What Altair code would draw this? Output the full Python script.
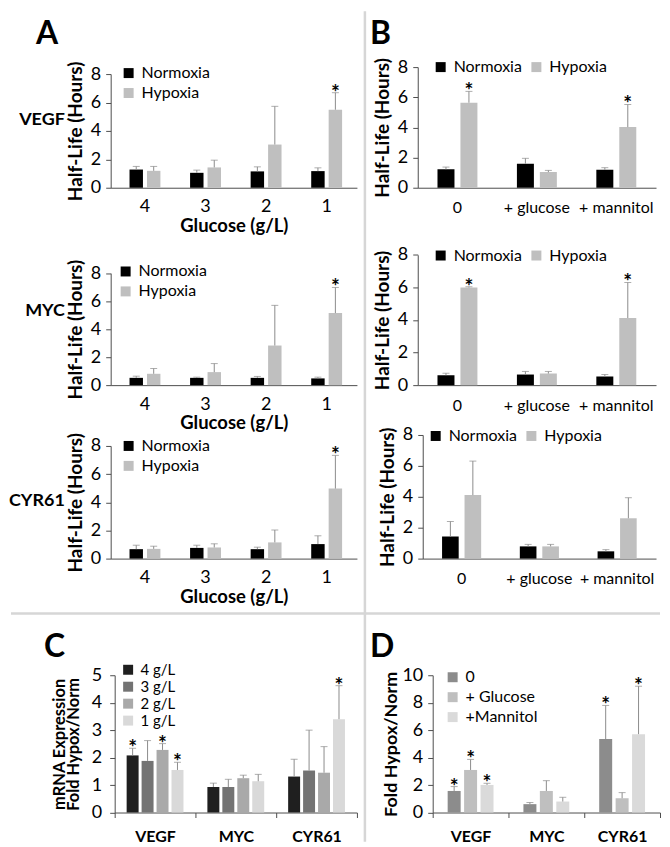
import altair as alt
import pandas as pd

FONT = "Lato"
ERR_COLOR = "#8c8c8c"
AXIS_COLOR = "#4d4d4d"
SEP_COLOR = "#d6d6d6"

# ---------------- data ----------------
HL_SERIES = ["Normoxia", "Hypoxia"]
HL_COLORS = ["#000000", "#bfbfbf"]

A_CATS = ["4", "3", "2", "1"]
B_CATS = ["0", "+ glucose", "+ mannitol"]

# Panel A - VEGF
A_VEGF_NORM = [1.28, 1.05, 1.15, 1.17]
A_VEGF_NORM_ERR = [1.50, 1.24, 1.47, 1.40]
A_VEGF_HYP = [1.19, 1.43, 3.04, 5.49]
A_VEGF_HYP_ERR = [1.50, 1.94, 5.73, 6.69]
A_VEGF_STAR = ["", "", "", "*"]
# Panel A - MYC
A_MYC_NORM = [0.52, 0.52, 0.52, 0.48]
A_MYC_NORM_ERR = [0.64, 0.57, 0.62, 0.57]
A_MYC_HYP = [0.81, 0.93, 2.83, 5.15]
A_MYC_HYP_ERR = [1.19, 1.54, 5.70, 6.98]
A_MYC_STAR = ["", "", "", "*"]
# Panel A - CYR61
A_CYR_NORM = [0.67, 0.76, 0.67, 1.03]
A_CYR_NORM_ERR = [0.95, 0.95, 0.81, 1.62]
A_CYR_HYP = [0.69, 0.79, 1.15, 4.97]
A_CYR_HYP_ERR = [0.88, 1.05, 2.03, 7.33]
A_CYR_STAR = ["", "", "", "*"]

# Panel B - VEGF
B_VEGF_NORM = [1.22, 1.59, 1.19]
B_VEGF_NORM_ERR = [1.37, 1.95, 1.33]
B_VEGF_HYP = [5.64, 1.04, 4.02]
B_VEGF_HYP_ERR = [6.39, 1.15, 5.52]
B_VEGF_STAR = ["*", "", "*"]
# Panel B - MYC
B_MYC_NORM = [0.61, 0.65, 0.53]
B_MYC_NORM_ERR = [0.73, 0.84, 0.65]
B_MYC_HYP = [6.00, 0.71, 4.12]
B_MYC_HYP_ERR = [6.04, 0.84, 6.30]
B_MYC_STAR = ["*", "", "*"]
# Panel B - CYR61
B_CYR_NORM = [1.43, 0.79, 0.47]
B_CYR_NORM_ERR = [2.40, 0.92, 0.58]
B_CYR_HYP = [4.11, 0.79, 2.61]
B_CYR_HYP_ERR = [6.31, 0.92, 3.94]
B_CYR_STAR = ["", "", ""]

# Panel C - mRNA fold change by glucose
GENES = ["VEGF", "MYC", "CYR61"]
C_SERIES = ["4 g/L", "3 g/L", "2 g/L", "1 g/L"]
C_COLORS = ["#1f1f1f", "#737373", "#a9a9a9", "#d9d9d9"]
C_VALS = [[2.08, 0.93, 1.31], [1.88, 0.93, 1.53], [2.28, 1.25, 1.45], [1.55, 1.14, 3.40]]
C_ERRS = [[2.34, 1.07, 1.94], [2.62, 1.21, 3.00], [2.51, 1.36, 2.40], [1.83, 1.39, 4.62]]
C_STARS = [["*", "", ""], ["", "", ""], ["*", "", ""], ["*", "", "*"]]

# Panel D - fold change with glucose / mannitol
D_SERIES = ["0", "+ Glucose", "+Mannitol"]
D_COLORS = ["#8c8c8c", "#bfbfbf", "#dadada"]
D_VALS = [[1.57, 0.61, 5.35], [3.10, 1.57, 1.04], [2.01, 0.80, 5.71]]
D_ERRS = [[1.89, 0.73, 7.80], [3.87, 2.32, 1.45], [2.13, 1.11, 9.20]]
D_STARS = [["*", "", "*"], ["*", "", ""], ["*", "", "*"]]

DUMMY = pd.DataFrame({"k": [0]})


def hl_df(cats, n, ne, h, he, hstar):
    rows = []
    for i, c in enumerate(cats):
        rows.append(dict(cat=c, series="Normoxia", val=n[i], err=ne[i], star=""))
        rows.append(dict(cat=c, series="Hypoxia", val=h[i], err=he[i], star=hstar[i]))
    return pd.DataFrame(rows)


def grp_df(cats, series, vals, errs, stars):
    rows = []
    for i, c in enumerate(cats):
        for j, s in enumerate(series):
            rows.append(dict(cat=c, series=s, val=vals[j][i], err=errs[j][i], star=stars[j][i]))
    return pd.DataFrame(rows)


def text_ann(text, x, y, size, align="left", baseline="alphabetic", weight="bold"):
    return alt.Chart(DUMMY).mark_text(
        text=text, fontSize=size, fontWeight=weight, font=FONT, align=align,
        baseline=baseline, color="black"
    ).encode(x=alt.value(x), y=alt.value(y))


def sep(x, x2, y, y2):
    return alt.Chart(DUMMY).mark_rule(color=SEP_COLOR, strokeWidth=2.5).encode(
        x=alt.value(x), x2=alt.value(x2), y=alt.value(y), y2=alt.value(y2))


LEG = dict(orient="none", title=None, symbolType="square", symbolSize=100,
           symbolStrokeWidth=0, labelFont=FONT, labelColor="black",
           labelLimit=300, padding=0, labelOffset=5)


def cell(df, cats, series, colors, width, height, y_range, y_domain,
         x_scale, xoff_scale, x_axis, y_axis, legend, annots):
    y_scale = alt.Scale(domain=y_domain, range=y_range, nice=False)
    base = alt.Chart(df).encode(
        x=alt.X("cat:N", sort=cats, scale=x_scale, axis=x_axis),
        xOffset=alt.XOffset("series:N", sort=series, scale=xoff_scale),
    )
    bars = base.mark_bar().encode(
        y=alt.Y("val:Q", scale=y_scale, axis=y_axis),
        color=alt.Color("series:N", sort=series,
                        scale=alt.Scale(domain=series, range=colors), legend=legend),
    )
    rules = base.mark_rule(color=ERR_COLOR, strokeWidth=1).encode(
        y=alt.Y("val:Q", axis=y_axis), y2="err:Q")
    caps = base.mark_tick(orient="horizontal", color=ERR_COLOR, size=7, thickness=1).encode(
        y=alt.Y("err:Q", axis=y_axis))
    stars = base.transform_filter(alt.datum.star == "*").mark_text(
        text="*", fontSize=21, fontWeight="bold", dy=7, font=FONT, baseline="alphabetic",
        color="black"
    ).encode(y=alt.Y("err:Q", axis=y_axis))
    return alt.layer(bars, rules, caps, stars, *annots).properties(width=width, height=height)


def hl_yaxis(offset=0):
    return alt.Axis(values=[0, 2, 4, 6, 8], title="Half-Life (Hours)", titleFontSize=19,
                    titleFontWeight="bold", titlePadding=5, labelFontSize=18, tickSize=5,
                    labelPadding=5, offset=offset)


def a_xaxis():
    return alt.Axis(title="Glucose (g/L)", titleFontSize=18.5, titleFontWeight="bold",
                    labelFontSize=18, labelAngle=0, ticks=False, labelPadding=10,
                    titlePadding=1)


def b_xaxis():
    return alt.Axis(title=None, labelFontSize=16, labelAngle=0, ticks=False,
                    labelPadding=12)


def a_cell(df, height, y_range, legend_x, legend_y, annots):
    return cell(df, A_CATS, HL_SERIES, HL_COLORS, 247, height, y_range, [0, 8],
                alt.Scale(domain=A_CATS, paddingInner=0, paddingOuter=0.033, align=1),
                alt.Scale(paddingInner=0.23, paddingOuter=0.85),
                a_xaxis(), hl_yaxis(),
                alt.Legend(direction="vertical", legendX=legend_x, legendY=legend_y,
                           rowPadding=4, labelFontSize=16, **LEG),
                annots)


def b_cell(df, height, y_range, legend_x, legend_y, annots, x_range=None, yoff=0):
    xs = dict(domain=B_CATS, paddingInner=0, paddingOuter=0)
    if x_range:
        xs["range"] = x_range
    return cell(df, B_CATS, HL_SERIES, HL_COLORS, 239, height, y_range, [0, 8],
                alt.Scale(**xs),
                alt.Scale(paddingInner=0.26, paddingOuter=0.86),
                b_xaxis(), hl_yaxis(yoff),
                alt.Legend(direction="horizontal", legendX=legend_x, legendY=legend_y,
                           columnPadding=6, labelFontSize=16, **LEG),
                annots)


# cell origins (x, y) in figure pixels: col0 x=110, col1 x=418; rows y=60,186,384,558
c_a_vegf = a_cell(hl_df(A_CATS, A_VEGF_NORM, A_VEGF_NORM_ERR, A_VEGF_HYP, A_VEGF_HYP_ERR, A_VEGF_STAR),
                  126, [126, 12], 10, 3,
                  [text_ann("A", -75, -18, 32), text_ann("VEGF", -46, 58, 18, align="right", baseline="middle")])
c_b_vegf = b_cell(hl_df(B_CATS, B_VEGF_NORM, B_VEGF_NORM_ERR, B_VEGF_HYP, B_VEGF_HYP_ERR, B_VEGF_STAR),
                  126, [126, 5], 15, -3,
                  [text_ann("B", -48, -18, 32)])
c_a_myc = a_cell(hl_df(A_CATS, A_MYC_NORM, A_MYC_NORM_ERR, A_MYC_HYP, A_MYC_HYP_ERR, A_MYC_STAR),
                 198, [198, 85.7], 7, 76,
                 [text_ann("MYC", -46, 124, 18, align="right", baseline="middle")])
c_b_myc = b_cell(hl_df(B_CATS, B_MYC_NORM, B_MYC_NORM_ERR, B_MYC_HYP, B_MYC_HYP_ERR, B_MYC_STAR),
                 198, [198, 67.3], 15, 60, [])
c_a_cyr = a_cell(hl_df(A_CATS, A_CYR_NORM, A_CYR_NORM_ERR, A_CYR_HYP, A_CYR_HYP_ERR, A_CYR_STAR),
                 174, [174, 61], 10, 53,
                 [text_ann("CYR61", -46, 116, 18, align="right", baseline="middle")])
c_b_cyr = b_cell(hl_df(B_CATS, B_CYR_NORM, B_CYR_NORM_ERR, B_CYR_HYP, B_CYR_HYP_ERR, B_CYR_STAR),
                 174, [174, 50], 10, 43, [], x_range=[5, 239], yoff=-5)

c_c = cell(grp_df(GENES, C_SERIES, C_VALS, C_ERRS, C_STARS), GENES, C_SERIES, C_COLORS,
           247, 254.7, [254.7, 117], [0, 5],
           alt.Scale(domain=GENES, paddingInner=0, paddingOuter=0, range=[4, 247]),
           alt.Scale(paddingInner=0.2, paddingOuter=0.8),
           alt.Axis(title=None, labelFontSize=16, labelFontWeight="bold", labelAngle=0,
                    ticks=True, tickBand="extent", tickSize=5, labelPadding=11),
           alt.Axis(values=[0, 1, 2, 3, 4, 5], title=["mRNA Expression", "Fold Hypox/Norm"],
                    titleFontSize=16.5, titleFontWeight="bold", titleLineHeight=14,
                    titlePadding=10, labelFontSize=18, tickSize=5, labelPadding=8, offset=-4),
           alt.Legend(direction="vertical", legendX=10, legendY=104, rowPadding=1,
                      labelFontSize=15, **LEG),
           [text_ann("C", -67, 99, 32), sep(-100, 551, 55, 55)])

c_d = cell(grp_df(GENES, D_SERIES, D_VALS, D_ERRS, D_STARS), GENES, D_SERIES, D_COLORS,
           243, 254.7, [254.7, 117], [0, 10],
           alt.Scale(domain=GENES, paddingInner=0, paddingOuter=0, range=[15, 243]),
           alt.Scale(paddingInner=0.21, paddingOuter=0.91),
           alt.Axis(title=None, labelFontSize=16, labelFontWeight="bold", labelAngle=0,
                    ticks=True, tickBand="extent", tickSize=5, labelPadding=11),
           alt.Axis(values=[0, 2, 4, 6, 8, 10], title="Fold Hypox/Norm",
                    titleFontSize=18, titleFontWeight="bold", titlePadding=1,
                    labelFontSize=18, tickSize=5, labelPadding=5, offset=-15),
           alt.Legend(direction="vertical", legendX=27, legendY=111, rowPadding=4,
                      labelFontSize=16, **LEG),
           [text_ann("D", -48, 99, 32), sep(-53, -53, -549, 284)])

chart = alt.concat(
    c_a_vegf, c_b_vegf, c_a_myc, c_b_myc, c_a_cyr, c_b_cyr, c_c, c_d,
    columns=2, spacing={"row": 0, "column": 61}, bounds="flush", align="each",
).resolve_scale(
    x="independent", y="independent", color="independent", xOffset="independent"
).resolve_legend(color="independent").properties(
    padding=0, background="white"
).configure(font=FONT).configure_view(stroke=None).configure_axis(
    domainColor=AXIS_COLOR, tickColor=AXIS_COLOR, labelColor="black", titleColor="black",
    labelFont=FONT, titleFont=FONT, grid=False, domainWidth=1, tickWidth=1
)

chart.save("out.html", embed_options={"renderer": "svg", "actions": False})
